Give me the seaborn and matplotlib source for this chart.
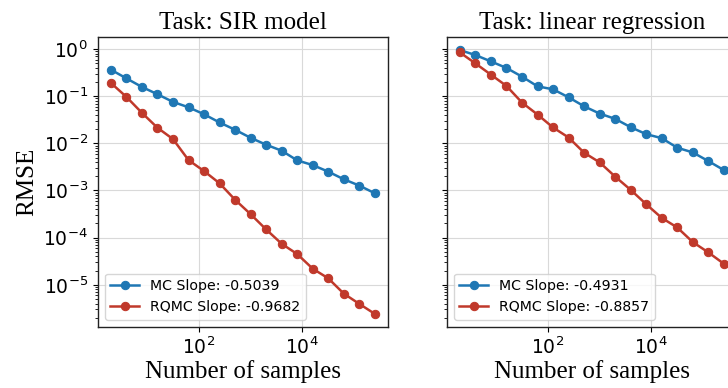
import numpy as np
import pandas as pd
import matplotlib
matplotlib.use("Agg")
import matplotlib.pyplot as plt
import matplotlib.ticker as mticker
import seaborn as sns

# ---- data ----
n_samples = [2, 4, 8, 16, 32, 64, 128, 256, 512, 1024, 2048, 4096, 8192,
             16384, 32768, 65536, 131072, 262144]

sir_mc = [0.365, 0.239, 0.157, 0.110, 0.0757, 0.0582, 0.0414, 0.0277, 0.0194,
          0.0131, 0.00934, 0.00698, 0.00435, 0.00346, 0.00251, 0.00173,
          0.00127, 0.000873]
sir_rqmc = [0.191, 0.0966, 0.0443, 0.0214, 0.0123, 0.00441, 0.00258, 0.00142,
            0.000635, 0.000314, 0.000149, 7.40e-5, 4.48e-5, 2.19e-5, 1.37e-5,
            6.49e-6, 3.93e-6, 2.41e-6]

lr_mc = [0.953, 0.746, 0.547, 0.397, 0.260, 0.162, 0.140, 0.0948, 0.0611,
         0.0428, 0.0331, 0.0220, 0.01566, 0.01288, 0.00807, 0.00642, 0.00421,
         0.00271]
lr_rqmc = [0.847, 0.496, 0.286, 0.165, 0.0732, 0.0408, 0.0217, 0.0133,
           0.00633, 0.00395, 0.00197, 0.00103, 0.000511, 0.000262, 0.000164,
           8.04e-5, 4.86e-5, 2.79e-5]

tasks = ["SIR model", "linear regression"]
mc_labels = ["MC Slope: -0.5039", "MC Slope: -0.4931"]
rqmc_labels = ["RQMC Slope: -0.9682", "RQMC Slope: -0.8857"]

MC_COLOR = "#1f77b4"
RQMC_COLOR = "#c0392b"

plt.rcParams["font.family"] = ["DejaVu Sans"]
plt.rcParams["mathtext.fontset"] = "dejavusans"

fig = plt.figure(figsize=(7.28, 3.88), dpi=100)
ax1 = fig.add_axes([0.1342, 0.157, 0.3988, 0.748])
ax2 = fig.add_axes([0.6136, 0.157, 0.3988, 0.748], sharex=ax1, sharey=ax1)
axes = [ax1, ax2]

series = [(sir_mc, sir_rqmc), (lr_mc, lr_rqmc)]
serif = "Liberation Serif"

for i, ax in enumerate(axes):
    mc, rq = series[i]
    df = pd.DataFrame({"n": n_samples, "mc": mc, "rqmc": rq})
    sns.lineplot(data=df, x="n", y="mc", ax=ax, marker="o", color=MC_COLOR,
                 markersize=6, markeredgecolor=MC_COLOR, linewidth=1.8,
                 label=mc_labels[i])
    sns.lineplot(data=df, x="n", y="rqmc", ax=ax, marker="o", color=RQMC_COLOR,
                 markersize=6, markeredgecolor=RQMC_COLOR, linewidth=1.8,
                 label=rqmc_labels[i])
    ax.set_xscale("log")
    ax.set_yscale("log")
    ax.grid(True, which="major", color="#d9d9d9", linewidth=0.8)
    ax.set_axisbelow(True)
    for s in ax.spines.values():
        s.set_color("#222222")
        s.set_linewidth(1.0)
    ax.set_title(f"Task: {tasks[i]}", fontsize=18, family=serif)
    ax.set_xlabel("Number of samples", fontsize=18, family=serif, labelpad=1)
    ax.tick_params(axis="both", which="major", labelsize=13.5)
    ax.legend(loc="lower left", fontsize=10.2, frameon=True)

ax1.xaxis.set_major_locator(mticker.LogLocator(base=100))
ax1.xaxis.set_minor_locator(mticker.NullLocator())
ax1.set_ylabel("RMSE", fontsize=18, family=serif)
ax2.set_ylabel("")
plt.setp(ax2.get_yticklabels(), visible=False)

fig.savefig("out.png", dpi=100)
